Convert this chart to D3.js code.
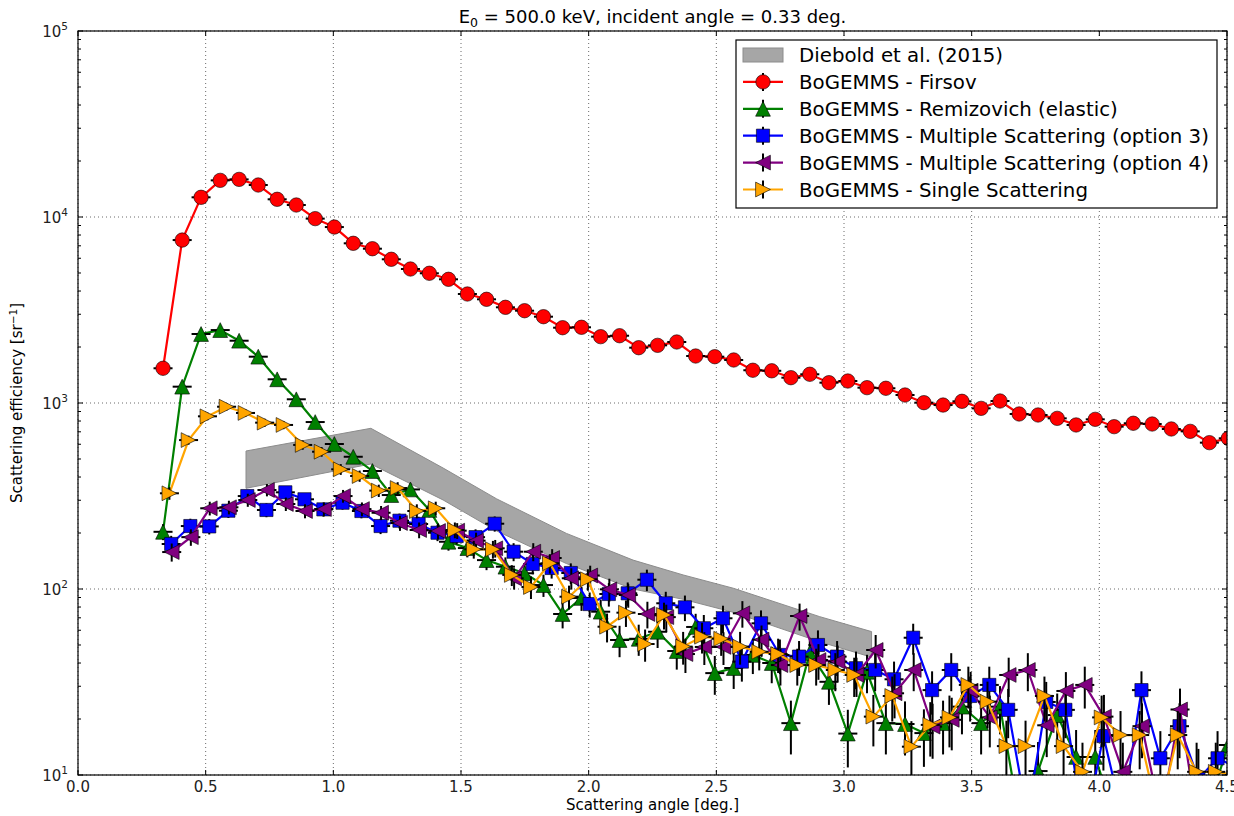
<!DOCTYPE html>
<meta charset="utf-8">
<script src="https://d3js.org/d3.v7.min.js"></script>
<style>
  body { margin: 0; background: #fff; }
  svg { font-family: "DejaVu Sans", sans-serif; }
</style>
<body>
<div id="chart"></div>
<script>

// scattering angle bins [deg.] (shared by all BoGEMMS runs)
var angles = [0.333, 0.408, 0.482, 0.557, 0.631, 0.706, 0.780, 0.855, 0.929, 1.004,
  1.078, 1.153, 1.227, 1.302, 1.376, 1.451, 1.525, 1.600, 1.674, 1.749,
  1.823, 1.898, 1.972, 2.047, 2.121, 2.196, 2.270, 2.345, 2.419, 2.494,
  2.568, 2.643, 2.717, 2.792, 2.866, 2.941, 3.015, 3.090, 3.164, 3.239,
  3.313, 3.388, 3.462, 3.537, 3.611, 3.686, 3.760, 3.835, 3.909, 3.984,
  4.058, 4.133, 4.207, 4.282, 4.356, 4.431, 4.505];
var binHalfWidth = 0.03725;

// scattering efficiency [sr^-1]
var firsov = [1537, 7516, 12760, 15740, 15930, 14860, 12450, 11600, 9800, 8830,
  7220, 6753, 5924, 5253, 4982, 4624, 3855, 3610, 3269, 3135,
  2911, 2540, 2553, 2273, 2300, 1983, 2042, 2128, 1789, 1774,
  1703, 1500, 1490, 1368, 1427, 1286, 1313, 1209, 1200, 1104,
  1004, 975, 1021, 936, 1025, 873, 862, 827, 762, 817,
  746, 778, 771, 725, 704, 612, 646];
var remizovich = [203, 1224, 2350, 2467, 2162, 1774, 1341, 1047, 790, 602,
  514, 431, 320, 343, 266, 179.5, 166, 143, 131.8, 121.5,
  105, 73.4, 89.5, 75.5, 53.2, 54, 58.9, 46.4, 62.5, 35.3,
  37.6, 44.2, 40, 19, 45.3, 31.7, 16.7, 35.9, 19, 18.8,
  16.8, 19, 23.3, 19, 23.3, 6, 10.5, 21, 12.5, 12.5,
  6, 5, 4, 6, 5, 7, 14.5];
var msc3 = [174.6, 218, 217, 263.6, 316, 266, 331, 303.6, 268, 291,
  262.6, 218, 232.9, 223.6, 200.7, 192.7, 190, 224.4, 158.7, 136.3,
  129.7, 121.9, 83, 94, 94.8, 112.2, 83.8, 79.7, 61.5, 69.6,
  40.7, 65.4, 44.2, 43.3, 50, 43.3, 37.5, 36.7, 32.7, 54.7,
  28.6, 36.7, 26.6, 30.5, 22.4, 6, 24.7, 22.4, 5, 16.2,
  6, 28.6, 12.3, 18.3, 9.5, 12.3, 11];
var msc4 = [158, 190, 271.6, 275, 300.9, 340.7, 286.4, 262.6, 269, 316,
  269, 257, 226.4, 207.6, 205, 205.9, 181.9, 165.5, 114.2, 158.7,
  146.8, 114.2, 118.2, 99.6, 92.8, 73.4, 70.6, 44.7, 48.8, 48.8,
  74, 53.4, 39, 71.6, 41.5, 40.7, 34.5, 47, 27.5, 36.7,
  18.2, 19.8, 28.4, 20.4, 34.5, 36.7, 18.5, 28.3, 30.5, 20.6,
  10.4, 18.3, 6, 22.5, 5, 6, 8];
var single = [327, 632, 848, 955, 884, 784, 762, 595, 547, 440,
  405, 338, 349, 262.6, 271.6, 207.6, 163.5, 163.5, 119, 102.5,
  137.5, 90.9, 112.8, 62.7, 74.6, 50.6, 72.5, 49, 55.4, 54,
  49, 46, 44.7, 39, 39, 36.7, 34.5, 20.6, 26.6, 14.2,
  18.6, 20.4, 30.5, 24.8, 14.3, 14.3, 26.6, 14.3, 10.4, 20.4,
  16.4, 16.4, 6, 16.4, 10.4, 10.4, 10];

// statistical error: err = k * sqrt(value)
var errK = 1.4;

// Diebold et al. (2015) band
var dieboldAngle = [0.658, 1.147, 1.43, 1.64, 1.913, 2.174, 2.37, 2.566, 2.905, 3.108];
var dieboldUpper = [552, 731, 447, 305, 199, 143, 119, 101, 71, 59];
var dieboldLower = [348, 470, 301, 205, 137, 100, 88, 75, 52, 43];

var xTicks = [0, 0.5, 1, 1.5, 2, 2.5, 3, 3.5, 4, 4.5];
var yDecades = [1, 2, 3, 4, 5];

var series = [
  {name: "BoGEMMS - Firsov", values: firsov, shift: 0, color: "#ff0000", marker: "circle"},
  {name: "BoGEMMS - Remizovich (elastic)", values: remizovich, shift: 0, color: "#008000", marker: "up"},
  {name: "BoGEMMS - Multiple Scattering (option 3)", values: msc3, shift: 0.032, color: "#0000ff", marker: "square"},
  {name: "BoGEMMS - Multiple Scattering (option 4)", values: msc4, shift: 0.034, color: "#800080", marker: "left"},
  {name: "BoGEMMS - Single Scattering", values: single, shift: 0.025, color: "#ffa500", marker: "right"}
];

var margin = {top: 31, right: 7, bottom: 41, left: 78},
    width = 1234 - margin.left - margin.right,
    height = 816 - margin.top - margin.bottom;

var svg = d3.select("#chart")
  .append("svg")
    .attr("width", 1234)
    .attr("height", 816)
  .append("g")
    .attr("transform", "translate(" + margin.left + "," + margin.top + ")");

var x = d3.scaleLinear().domain([0, 4.5]).range([0, width]);
var y = d3.scaleLog().domain([10, 1e5]).range([height, 0]);

svg.append("clipPath").attr("id", "clip")
  .append("rect").attr("width", width).attr("height", height);

// grid
var grid = svg.append("g").attr("stroke", "#444").attr("stroke-width", 0.8)
  .attr("stroke-dasharray", "1,3");
grid.selectAll(".gx").data(xTicks).enter().append("line")
  .attr("x1", function(d) { return x(d); }).attr("x2", function(d) { return x(d); })
  .attr("y1", 0).attr("y2", height);
grid.selectAll(".gy").data(yDecades).enter().append("line")
  .attr("x1", 0).attr("x2", width)
  .attr("y1", function(d) { return y(Math.pow(10, d)); })
  .attr("y2", function(d) { return y(Math.pow(10, d)); });

var plot = svg.append("g").attr("clip-path", "url(#clip)");

// Diebold band
var band = dieboldAngle.map(function(a, i) { return [x(a), y(dieboldUpper[i])]; })
  .concat(dieboldAngle.map(function(a, i) { return [x(a), y(dieboldLower[i])]; }).reverse());
plot.append("path")
  .attr("d", d3.line()(band) + "Z")
  .attr("fill", "#a6a6a6")
  .attr("stroke", "#8c8c8c")
  .attr("stroke-width", 1);

function markerPath(type, s) {
  if (type == "up") return "M0," + (-s) + "L" + s + "," + s + "L" + (-s) + "," + s + "Z";
  if (type == "left") return "M" + (-s) + ",0L" + s + "," + (-s) + "L" + s + "," + s + "Z";
  if (type == "right") return "M" + s + ",0L" + (-s) + "," + (-s) + "L" + (-s) + "," + s + "Z";
  return "M" + (-s) + "," + (-s) + "H" + s + "V" + s + "H" + (-s) + "Z";
}

function drawMarker(g, type, color) {
  if (type == "circle") {
    g.append("circle").attr("r", 7.2);
  } else {
    g.append("path").attr("d", markerPath(type, type == "square" ? 6.6 : 7.4));
  }
  g.selectAll("circle, path")
    .attr("fill", color).attr("stroke", "#000").attr("stroke-width", 0.6);
}

series.forEach(function(s) {
  var pts = s.values.map(function(v, i) {
    return {a: angles[i] + s.shift, v: v, e: errK * Math.sqrt(v)};
  });
  var g = plot.append("g");

  g.append("path")
    .datum(pts)
    .attr("fill", "none")
    .attr("stroke", s.color)
    .attr("stroke-width", 2.2)
    .attr("d", d3.line().x(function(d) { return x(d.a); }).y(function(d) { return y(d.v); }));

  // error bars
  g.selectAll(".ex").data(pts).enter().append("line")
    .attr("x1", function(d) { return x(d.a - binHalfWidth); })
    .attr("x2", function(d) { return x(d.a + binHalfWidth); })
    .attr("y1", function(d) { return y(d.v); })
    .attr("y2", function(d) { return y(d.v); })
    .attr("stroke", "#000").attr("stroke-width", 2);
  g.selectAll(".ey").data(pts).enter().append("line")
    .attr("x1", function(d) { return x(d.a); })
    .attr("x2", function(d) { return x(d.a); })
    .attr("y1", function(d) { return y(d.v + d.e); })
    .attr("y2", function(d) { return y(Math.max(d.v - d.e, 1)); })
    .attr("stroke", "#000").attr("stroke-width", 2);

  g.selectAll(".mk").data(pts).enter().append("g")
    .attr("transform", function(d) { return "translate(" + x(d.a) + "," + y(d.v) + ")"; })
    .each(function() { drawMarker(d3.select(this), s.marker, s.color); });
});

// frame and ticks (inside)
svg.append("rect").attr("width", width).attr("height", height)
  .attr("fill", "none").attr("stroke", "#000").attr("stroke-width", 1.2);

var ticks = svg.append("g").attr("stroke", "#000").attr("stroke-width", 1);
xTicks.forEach(function(t) {
  ticks.append("line").attr("x1", x(t)).attr("x2", x(t)).attr("y1", height).attr("y2", height - 5);
  ticks.append("line").attr("x1", x(t)).attr("x2", x(t)).attr("y1", 0).attr("y2", 5);
});
yDecades.forEach(function(d) {
  var base = Math.pow(10, d);
  ticks.append("line").attr("x1", 0).attr("x2", 5).attr("y1", y(base)).attr("y2", y(base));
  ticks.append("line").attr("x1", width).attr("x2", width - 5).attr("y1", y(base)).attr("y2", y(base));
  if (d < 5) {
    for (var m = 2; m < 10; m++) {
      var yy = y(base * m);
      ticks.append("line").attr("x1", 0).attr("x2", 3).attr("y1", yy).attr("y2", yy);
      ticks.append("line").attr("x1", width).attr("x2", width - 3).attr("y1", yy).attr("y2", yy);
    }
  }
});

// tick labels
svg.selectAll(".xl").data(xTicks).enter().append("text")
  .attr("x", function(d) { return x(d); })
  .attr("y", height + 17)
  .attr("text-anchor", "middle")
  .style("font-size", "15px")
  .style("fill", "#222")
  .text(function(d) { return d.toFixed(1); });

var yl = svg.selectAll(".yl").data(yDecades).enter().append("text")
  .attr("x", -10)
  .attr("y", function(d) { return y(Math.pow(10, d)) + 6; })
  .attr("text-anchor", "end")
  .style("fill", "#222");
yl.append("tspan").style("font-size", "15px").text("10");
yl.append("tspan").style("font-size", "10.5px").attr("dy", -7).text(function(d) { return d; });

// axis labels
svg.append("text")
  .attr("x", width / 2).attr("y", height + 35)
  .attr("text-anchor", "middle")
  .style("font-size", "15px")
  .text("Scattering angle [deg.]");

var ylab = svg.append("text")
  .attr("transform", "translate(" + (-56) + "," + (height / 2) + ") rotate(-90)")
  .attr("text-anchor", "middle")
  .style("font-size", "15px");
ylab.append("tspan").text("Scattering efficiency [sr");
ylab.append("tspan").attr("dy", -5).style("font-size", "10.5px").text("\u22121");
ylab.append("tspan").attr("dy", 5).text("]");

// title
var title = svg.append("text")
  .attr("x", width / 2).attr("y", -8)
  .attr("text-anchor", "middle")
  .style("font-size", "18px");
title.append("tspan").text("E");
title.append("tspan").attr("dy", 4).style("font-size", "12.5px").text("0");
title.append("tspan").attr("dy", -4).text(" = 500.0 keV, incident angle = 0.33 deg.");

// legend
var lg = svg.append("g").attr("transform", "translate(" + (736 - margin.left) + "," + (40 - margin.top) + ")");
lg.append("rect").attr("width", 481).attr("height", 168)
  .attr("fill", "#fff").attr("stroke", "#000").attr("stroke-width", 1.2);

var rowY = function(i) { return 15 + i * 26.9; };
lg.append("rect").attr("x", 7).attr("y", rowY(0) - 7).attr("width", 40).attr("height", 14)
  .attr("fill", "#a6a6a6").attr("stroke", "#8c8c8c");
lg.append("text").attr("x", 63).attr("y", rowY(0) + 7).style("font-size", "19.8px")
  .text("Diebold et al. (2015)");

series.forEach(function(s, i) {
  var ry = rowY(i + 1);
  lg.append("line").attr("x1", 7).attr("x2", 47).attr("y1", ry).attr("y2", ry)
    .attr("stroke", s.color).attr("stroke-width", 2.2);
  lg.append("line").attr("x1", 27).attr("x2", 27).attr("y1", ry - 9).attr("y2", ry + 9)
    .attr("stroke", "#000").attr("stroke-width", 2);
  var mg = lg.append("g").attr("transform", "translate(27," + ry + ")");
  drawMarker(mg, s.marker, s.color);
  lg.append("text").attr("x", 63).attr("y", ry + 7).style("font-size", "19.8px")
    .text(s.name);
});

</script>
</body>
